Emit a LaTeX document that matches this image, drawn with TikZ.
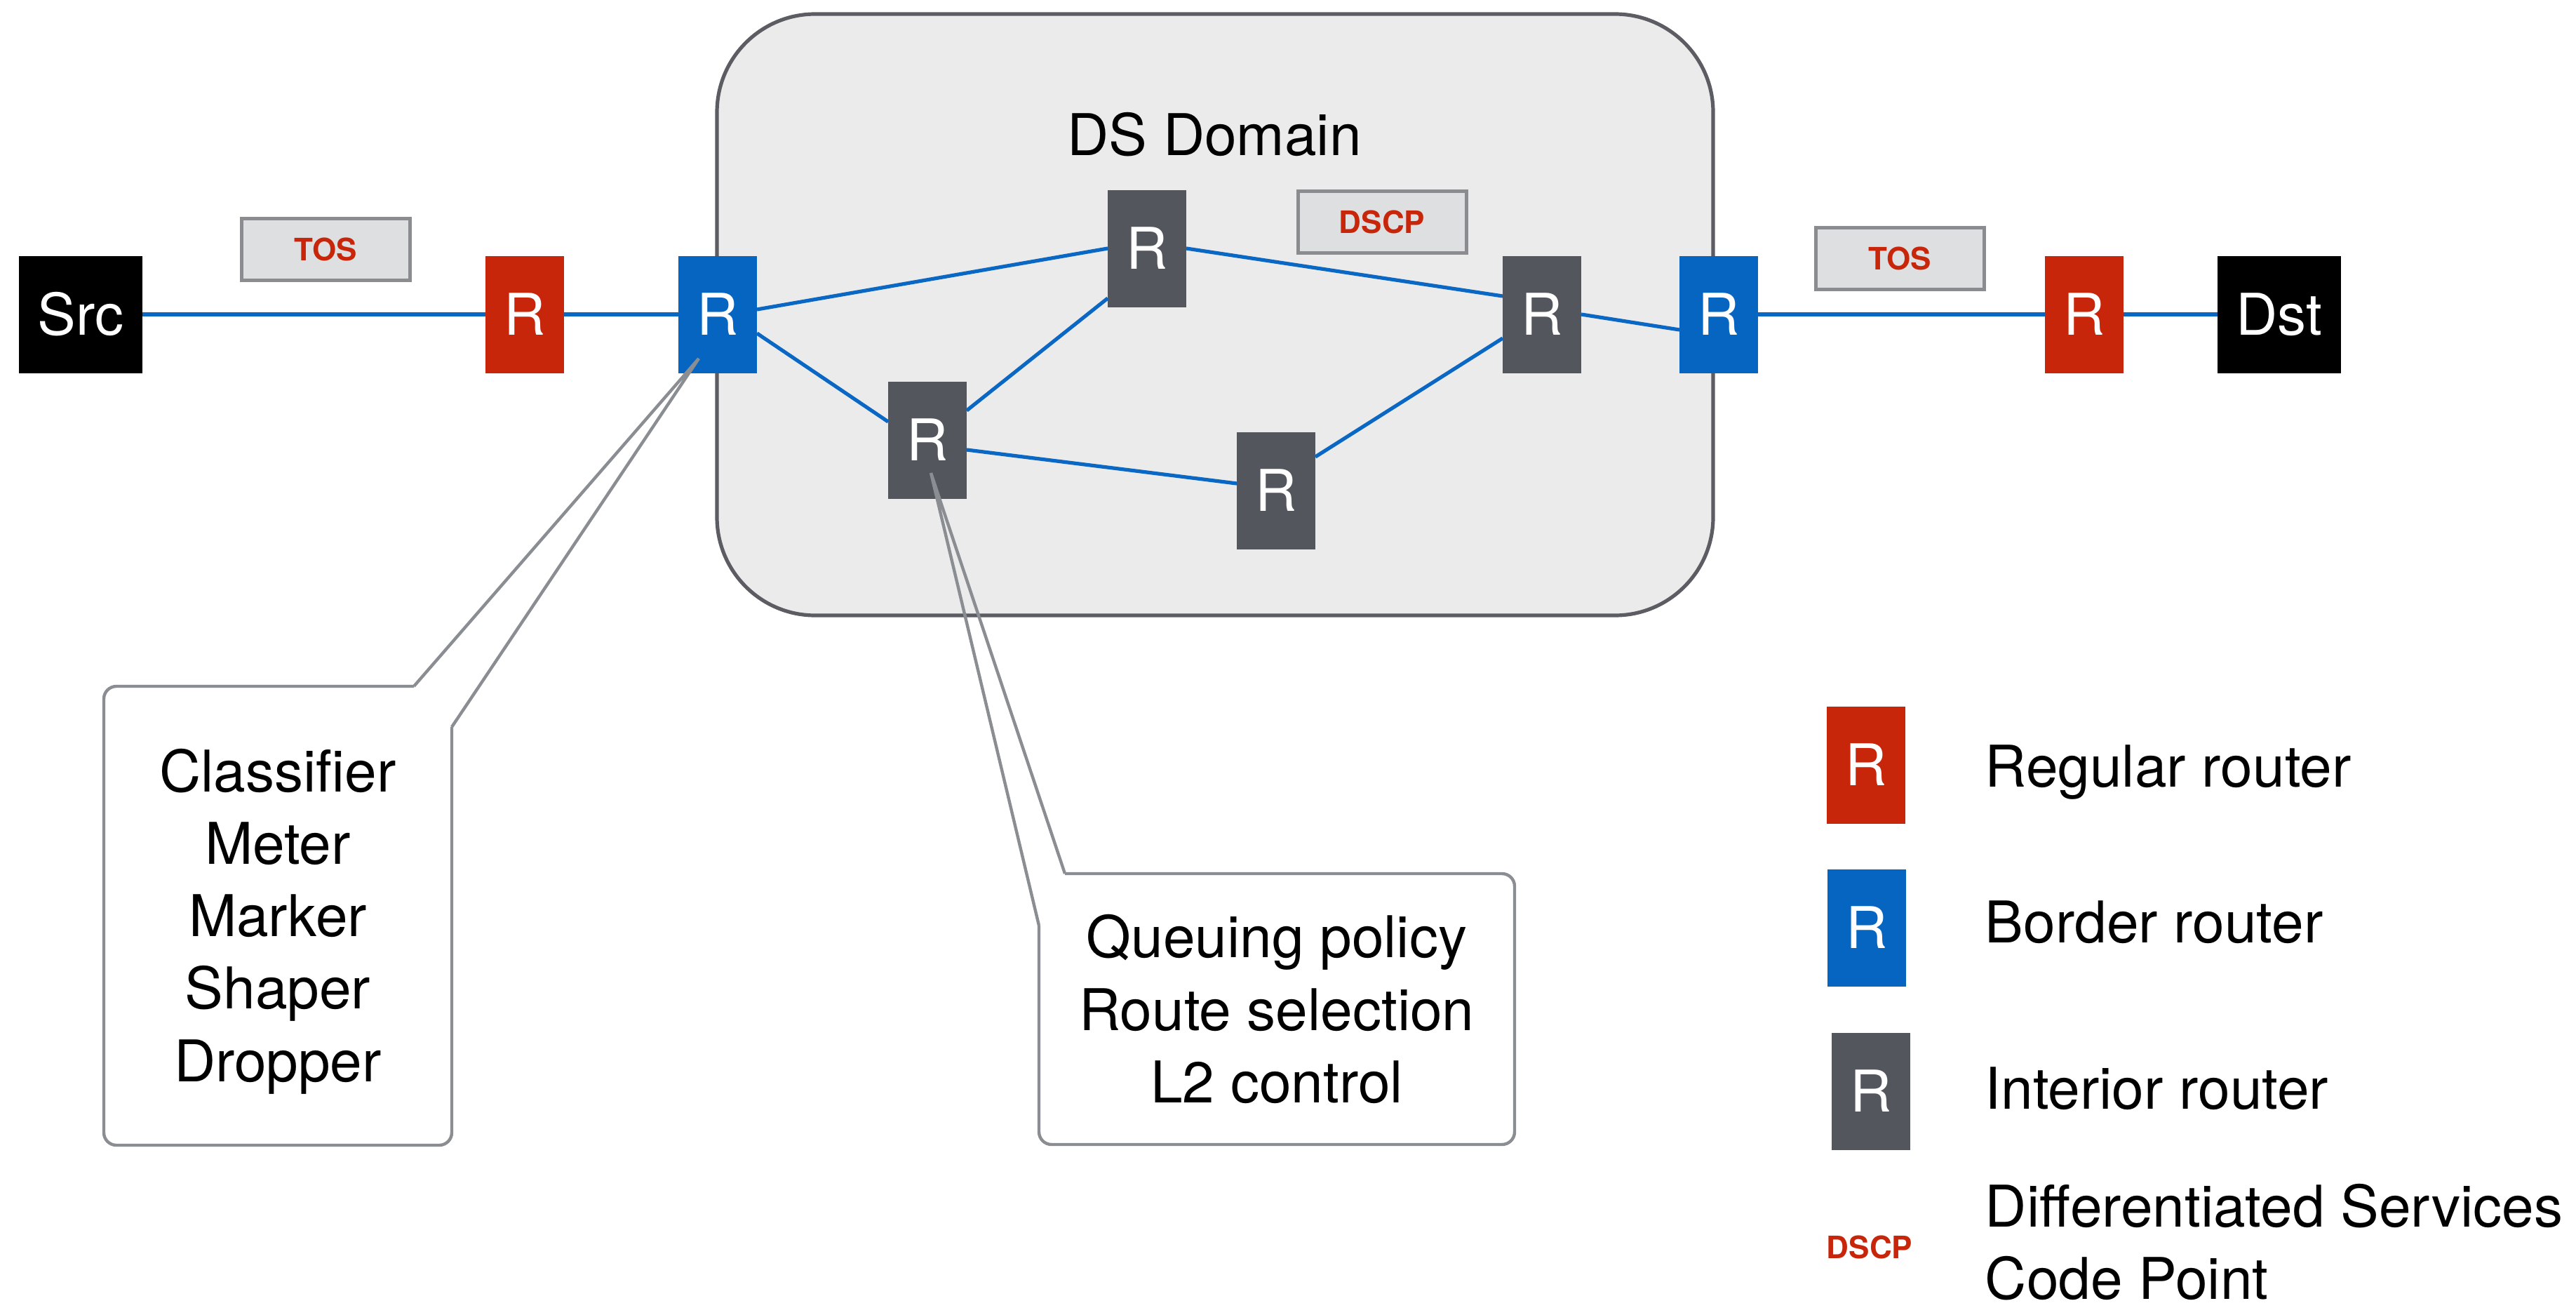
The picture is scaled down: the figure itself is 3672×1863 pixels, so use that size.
\documentclass[tikz,border=0pt]{standalone}
\usepackage{fontspec}
\setmainfont{TeX Gyre Heros}
\usetikzlibrary{calc}
\definecolor{rred}{HTML}{C8260A}
\definecolor{rblue}{HTML}{0565C0}
\definecolor{rgray}{HTML}{53565D}
\definecolor{domfill}{HTML}{EBEBEB}
\definecolor{domline}{HTML}{5B5D62}
\definecolor{tagfill}{HTML}{DEDFE0}
\definecolor{tagline}{HTML}{8A8C90}
\definecolor{callline}{HTML}{8A8D91}
\definecolor{linkblue}{HTML}{0A67C4}
\begin{document}
\begin{tikzpicture}[x=0.25pt,y=-0.25pt,
  txt/.style={font=\fontsize{20.5}{25.8}\selectfont},
  routerbox/.style={txt, text=white, minimum width=28pt, minimum height=41.75pt, inner sep=0pt, outer sep=0pt},
  rrouter/.style={routerbox, fill=rred},
  brouter/.style={routerbox, fill=rblue},
  irouter/.style={routerbox, fill=rgray},
  hostbox/.style={routerbox, fill=black, minimum width=44pt},
  tagfont/.style={text=rred, font=\fontsize{11}{13}\selectfont\bfseries},
  tagbox/.style={tagfont, draw=tagline, line width=1.25pt, fill=tagfill, minimum width=60pt, minimum height=22pt, inner sep=0pt},
  netlink/.style={draw=linkblue, line width=1.3pt},
  calloutline/.style={draw=callline, line width=1.1pt}
]
\useasboundingbox (0,0) rectangle (3672,1863);
% domain
\draw[draw=domline, line width=1.3pt, fill=domfill, rounded corners=35pt] (1022,20) rectangle (2442,877);
\node[txt, anchor=base] (title) at (1731,221) {DS Domain};
% nodes
\node[hostbox] (src) at (115,448) {Src};
\node[rrouter] (r1) at (748,448) {R};
\node[brouter] (b1) at (1023,448) {R};
\node[irouter] (i1) at (1635,354) {R};
\node[irouter] (i2) at (1322,627) {R};
\node[irouter] (i3) at (1819,699) {R};
\node[irouter] (i4) at (2198,448) {R};
\node[brouter] (b2) at (2450,448) {R};
\node[rrouter] (r2) at (2971,448) {R};
\node[hostbox] (dst) at (3249,448) {Dst};
\node[tagbox] (tos1) at (464,355) {TOS};
\node[tagbox] (tos2) at (2708,368) {TOS};
\node[tagbox] (dscp) at (1970,316) {DSCP};
% links
\draw[netlink] (src) -- (r1);
\draw[netlink] (r1) -- (b1);
\draw[netlink] ($(b1.east)+(0,-7)$) -- (i1.west);
\draw[netlink] ($(b1.east)+(0,27)$) -- ($(i2.west)+(0,-26)$);
\draw[netlink] ($(i2.east)+(0,-42)$) -- ($(i1.west)+(0,71)$);
\draw[netlink] ($(i2.east)+(0,14)$) -- ($(i3.west)+(0,-10)$);
\draw[netlink] (i1.east) -- ($(i4.west)+(0,-26)$);
\draw[netlink] ($(i3.east)+(0,-48)$) -- ($(i4.west)+(0,34)$);
\draw[netlink] (i4.east) -- ($(b2.west)+(0,22)$);
\draw[netlink] (b2) -- (r2);
\draw[netlink] (r2) -- (dst);
% callout 1
\coordinate (t1) at (996,511);
\draw[calloutline, rounded corners=4.5pt] (644,1036) -- (644,1632) -- (148,1632) -- (148,978) -- (590,978);
\draw[calloutline] (590,978) -- (t1) -- (644,1036);
\node[txt, inner sep=0pt, align=center] (c1) at (396,1313) {Classifier\\Meter\\Marker\\Shaper\\Dropper};
% callout 2
\coordinate (t2) at (1327,674);
\draw[calloutline, rounded corners=4.5pt] (1518,1245) -- (2159,1245) -- (2159,1631) -- (1481,1631) -- (1481,1319);
\draw[calloutline] (1481,1319) -- (t2) -- (1518,1245);
\node[txt, inner sep=0pt, align=center] (c2) at (1820,1438) {Queuing policy\\Route selection\\L2 control};
% legend
\node[rrouter] (lr) at (2660,1090) {R};
\node[brouter] (lb) at (2661,1322) {R};
\node[irouter] (li) at (2667,1555) {R};
\node[tagfont, inner sep=0pt] (ld) at (2665,1777) {DSCP};
\node[txt, anchor=base west, inner sep=0pt] (lrt) at (2829,1121) {Regular router};
\node[txt, anchor=base west, inner sep=0pt] (lbt) at (2829,1343) {Border router};
\node[txt, anchor=base west, inner sep=0pt] (lit) at (2829,1580) {Interior router};
\node[txt, anchor=west, align=left, inner sep=0pt] (ldt) at (2829,1770) {Differentiated Services\\Code Point};
\end{tikzpicture}
\end{document}
